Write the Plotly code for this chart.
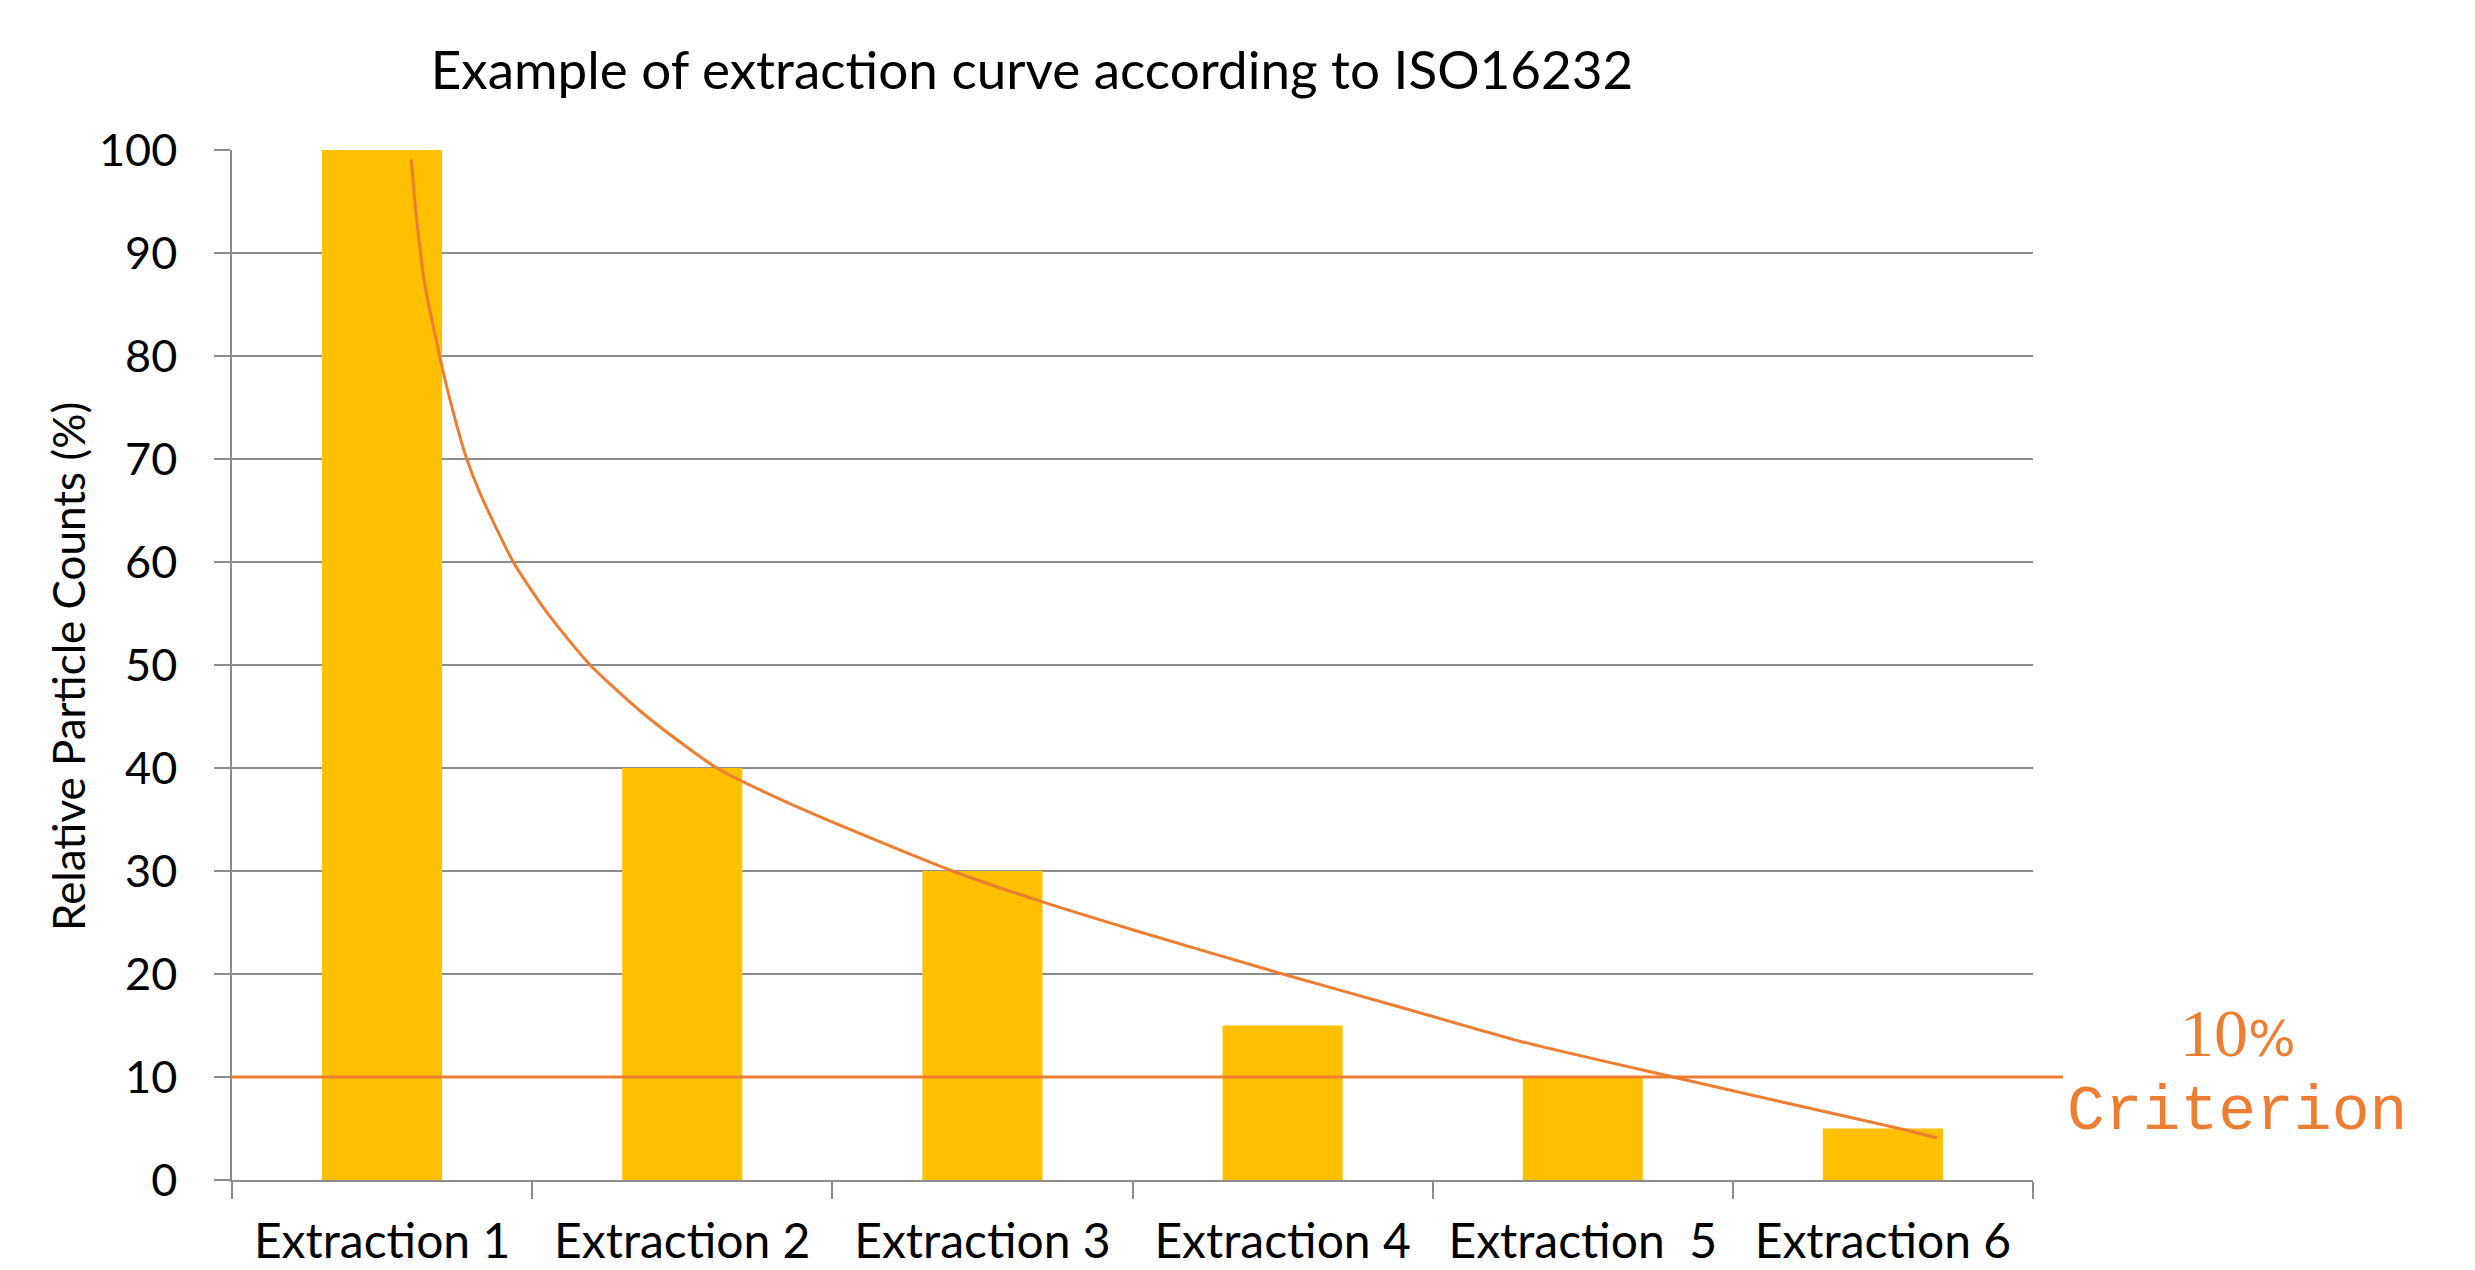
import plotly.graph_objects as go

# ---- data ----
categories = ["Extraction 1", "Extraction 2", "Extraction 3", "Extraction 4",
              "Extraction \u00a05", "Extraction 6"]
relative_counts = [100, 40, 30, 15, 10, 5]

# extraction curve (x in category units, 0 = Extraction 1)
curve_x = [0.097, 0.115, 0.143, 0.177, 0.204, 0.243, 0.282, 0.326, 0.437, 0.549,
           0.693, 0.882, 1.115, 1.40, 1.90, 2.20, 2.50,
           3.00, 3.39, 3.80, 4.30, 4.66, 5.04, 5.18]
curve_y = [99.1, 93.3, 86.8, 82.0, 78.4, 73.9, 70.0, 66.7, 60.0, 55.1,
           50.0, 45.0, 40.0, 36.0, 30.0, 27.0, 24.3,
           20.0, 16.8, 13.4, 10.0, 7.6, 5.1, 4.1]

criterion_value = 10
y_ticks = [0, 10, 20, 30, 40, 50, 60, 70, 80, 90, 100]

BAR = "#FFC000"
ORANGE = "#ED7D31"
GRID = "#8C8C8C"
TXT_FONT = "Lato"

W, H = 2475, 1270
OFF = 8  # page offset of the figure
L, T = 232 - OFF, 150 - OFF
PW, PH = 1801, 1030
R, B = W - L - PW, H - T - PH


def px_x(x):
    return (x - OFF - L) / PW


def px_y(y):
    return (T + PH - (y - OFF)) / PH


fig = go.Figure()
fig.add_trace(go.Bar(x=categories, y=relative_counts, marker_color=BAR,
                     marker_line_width=0, width=0.4, showlegend=False,
                     hoverinfo="x+y"))
fig.add_trace(go.Scatter(x=curve_x, y=curve_y, xaxis="x2", mode="lines",
                         line=dict(color=ORANGE, width=3, shape="spline", smoothing=0.6),
                         showlegend=False))

fig.add_shape(type="line", xref="paper", yref="y", x0=0, x1=px_x(2063),
              y0=criterion_value, y1=criterion_value,
              line=dict(color=ORANGE, width=3), layer="above")

fig.add_annotation(xref="paper", yref="paper",
                   x=px_x(2238), y=px_y(1033),
                   text="10<span style='font-family:DejaVu Sans;font-size:50px'>%</span>",
                   showarrow=False, xanchor="center", yanchor="middle",
                   font=dict(family="Liberation Serif", size=68, color=ORANGE))
fig.add_annotation(xref="paper", yref="paper",
                   x=px_x(2237), y=px_y(1112),
                   text="Criterion", showarrow=False, xanchor="center", yanchor="middle",
                   font=dict(family="Liberation Mono", size=63, color=ORANGE))

fig.update_layout(
    width=W, height=H,
    margin=dict(l=L, r=R, t=T, b=B, autoexpand=False),
    paper_bgcolor="white", plot_bgcolor="white",
    title=dict(text="Example of extraction curve according to ISO16232",
               x=(1032 - OFF) / W, xanchor="center", xref="container",
               y=1 - (70 - OFF) / H, yanchor="middle", yref="container",
               font=dict(family=TXT_FONT, size=53, color="black")),
    xaxis=dict(type="category", tickson="boundaries", ticks="outside", ticklen=17,
               tickcolor=GRID, tickwidth=1.5, showline=True, linecolor=GRID,
               linewidth=1.5, showgrid=False, range=[-0.5, 5.5],
               ticklabelstandoff=19, automargin=False,
               tickfont=dict(family=TXT_FONT, size=48, color="black")),
    xaxis2=dict(overlaying="x", range=[-0.5, 5.5], visible=False),
    yaxis=dict(range=[0, 100], tickvals=y_ticks, ticks="outside", ticklen=16,
               tickcolor=GRID, tickwidth=1.5, showgrid=True, gridcolor=GRID,
               gridwidth=1.5, showline=True, linecolor=GRID, linewidth=1.5,
               zeroline=False, ticklabelstandoff=28, automargin=False,
               tickfont=dict(family=TXT_FONT, size=45, color="black")),
    bargap=0.6,
)

fig.add_annotation(xref="paper", yref="paper", x=px_x(68), y=px_y(667),
                   text="Relative Particle Counts (%)", textangle=-90,
                   showarrow=False, xanchor="center", yanchor="middle",
                   font=dict(family=TXT_FONT, size=44, color="black"))

fig.write_html("out.html")
